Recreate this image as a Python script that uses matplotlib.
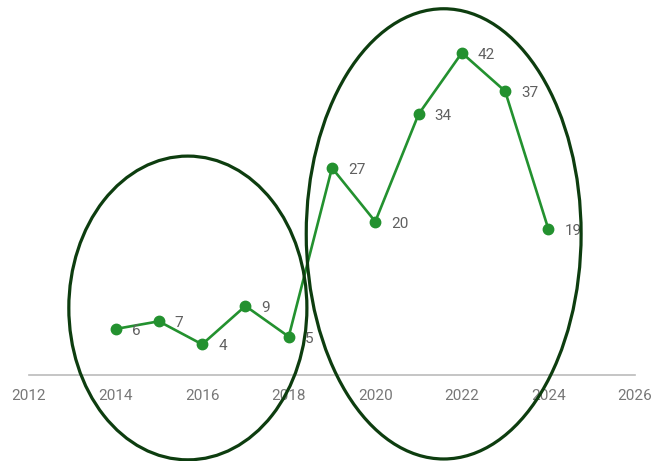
import matplotlib
matplotlib.use("Agg")
import matplotlib.pyplot as plt
from matplotlib.patches import Ellipse

plt.rcParams["font.family"] = ["Roboto", "DejaVu Sans"]

years = [2014, 2015, 2016, 2017, 2018, 2019, 2020, 2021, 2022, 2023, 2024]
values = [6, 7, 4, 9, 5, 27, 20, 34, 42, 37, 19]
xticks = [2012, 2014, 2016, 2018, 2020, 2022, 2024, 2026]

W, H = 652, 461
fig = plt.figure(figsize=(W / 100, H / 100), dpi=100)
left_px, right_px = 29, 635
zero_px = 375
ppu = 7.67
ymax = 48
ax = fig.add_axes([left_px / W, (H - zero_px) / H, (right_px - left_px) / W, ymax * ppu / H])
ax.set_xlim(2012, 2026)
ax.set_ylim(0, ymax)

line_color = "#23912f"
ax.plot(years, values, color=line_color, lw=1.9, marker="o", ms=7.5, zorder=3, clip_on=False)
for x, v in zip(years, values):
    ax.annotate(str(v), (x, v), xytext=(16, -2), textcoords="offset pixels",
                ha="left", va="center", fontsize=11, color="#606060", zorder=4)

ell_color = "#0d3d0f"
ax.add_patch(Ellipse((2015.67, 8.74), 5.50, 39.6, fill=False, ec=ell_color, lw=2.3,
                     clip_on=False, zorder=5))
ax.add_patch(Ellipse((2021.58, 18.4), 6.35, 58.7, fill=False, ec=ell_color, lw=2.3,
                     clip_on=False, zorder=5))

for s in ["top", "right", "left"]:
    ax.spines[s].set_visible(False)
ax.spines["bottom"].set_color("#bbbbbb")
ax.spines["bottom"].set_linewidth(1.2)
ax.set_yticks([])
ax.set_xticks(xticks)
ax.set_xticklabels([str(t) for t in xticks])
ax.tick_params(axis="x", length=0, pad=10, labelsize=11, labelcolor="#777777")

fig.savefig("out.png", dpi=100)
